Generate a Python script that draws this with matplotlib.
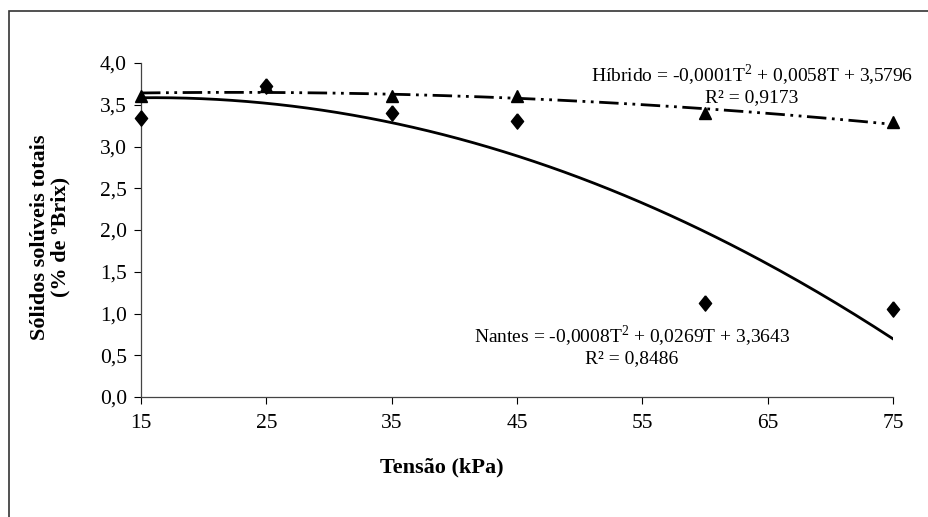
import numpy as np
from matplotlib import pyplot as plt
from matplotlib.patches import Rectangle

plt.rcParams['font.family'] = ['Liberation Serif', 'DejaVu Serif']

tensao = [15, 25, 35, 45, 60, 75]
hibrido = [3.60, 3.72, 3.60, 3.60, 3.40, 3.29]
nantes = [3.34, 3.72, 3.40, 3.31, 1.13, 1.05]

eq_hibrido = "Híbrido = -0,0001T$^{2}$ + 0,0058T + 3,5796\nR² = 0,9173"
eq_nantes = "Nantes = -0,0008T$^{2}$ + 0,0269T + 3,3643\nR² = 0,8486"
yticks = [0.0, 0.5, 1.0, 1.5, 2.0, 2.5, 3.0, 3.5, 4.0]
xticks = [15, 25, 35, 45, 55, 65, 75]

diamond = [(0, 1), (0.8, 0), (0, -1), (-0.8, 0), (0, 1)]


def plot_data(name):
    plt.rcParams['mathtext.fontset'] = 'custom'
    plt.rcParams['mathtext.rm'] = 'Liberation Serif'
    fig = plt.figure(figsize=(9.29, 5.17), dpi=100)
    ax = fig.add_axes([141 / 929, 1 - 397 / 517, 752 / 929, 334 / 517])

    # polynomial trend lines (2nd order), as in the spreadsheet
    tt = np.linspace(15, 75, 200)
    ph = np.polyfit(tensao, hibrido, 2)
    pn = np.polyfit(tensao, nantes, 2)
    ax.plot(tt, np.polyval(ph, tt), color="black", lw=2,
            linestyle=(0, (7, 2, 1, 2, 1, 2)))
    ax.plot(tt, np.polyval(pn, tt), color="black", lw=2)

    ax.plot(tensao, hibrido, '^', ms=8, color="black", linestyle="none",
            clip_on=False, zorder=4)
    ax.plot(tensao, nantes, marker=diamond, ms=11, color="black",
            linestyle="none", clip_on=False, zorder=5)

    ax.set_xlim(15, 75)
    ax.set_ylim(0, 4)
    ax.set_xticks(xticks)
    ax.set_yticks(yticks)
    ax.set_yticklabels([f"{v:.1f}".replace(".", ",") for v in yticks])
    ax.tick_params(labelsize=15.5, direction="out", length=5, width=0.8)
    ax.tick_params(axis="x", pad=7)
    ax.tick_params(axis="y", pad=5)
    ax.spines["top"].set_visible(False)
    ax.spines["right"].set_visible(False)
    for s in ("left", "bottom"):
        ax.spines[s].set_color("#444444")
        ax.spines[s].set_linewidth(0.9)

    fig.text(752 / 929, 1 - 84 / 517, eq_hibrido, ha="center", va="center",
             fontsize=14, multialignment="center", linespacing=1.1)
    fig.text(632 / 929, 1 - 345 / 517, eq_nantes, ha="center", va="center",
             fontsize=14, multialignment="center", linespacing=1.1)

    fig.text(50 / 929, 1 - 237 / 517, "Sólidos solúveis totais\n(% de ºBrix)",
             rotation=90, ha="center", va="center", fontsize=16,
             fontweight="bold", multialignment="center", linespacing=1.0)
    fig.text(442 / 929, 1 - 467 / 517, "Tensão (kPa)", ha="center",
             va="center", fontsize=16, fontweight="bold")

    fig.patches.append(Rectangle((9 / 929, -0.1), 1.2, 1 - 11 / 517 + 0.1,
                                 transform=fig.transFigure, fill=False,
                                 edgecolor="#333333", lw=1.2))
    fig.savefig(name)


plot_data("out.png")
